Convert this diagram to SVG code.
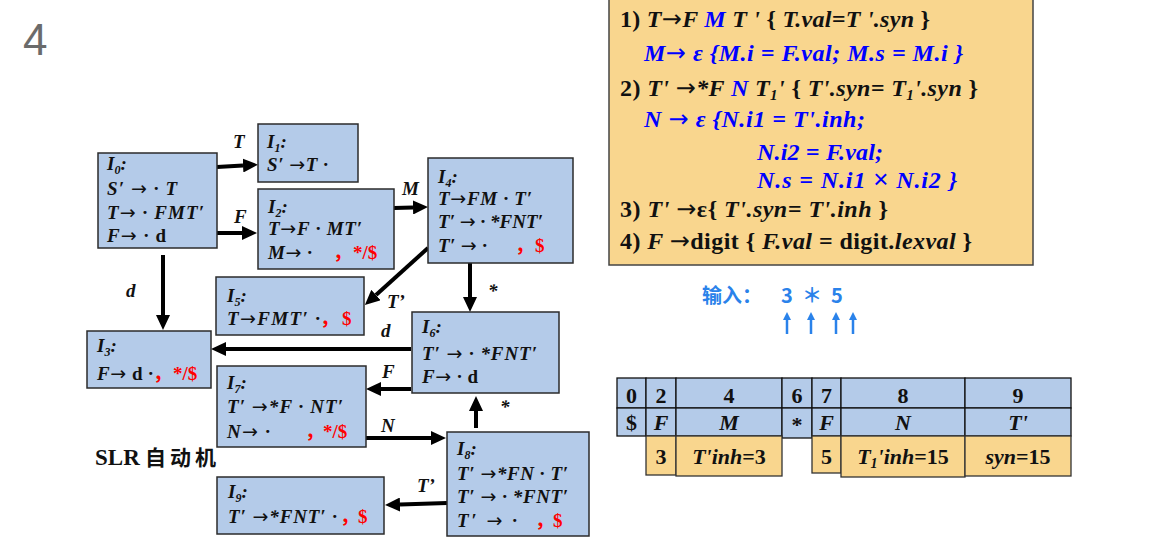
<svg xmlns="http://www.w3.org/2000/svg" width="1156" height="546" viewBox="0 0 1156 546">
<style>
.box{fill:#b4cbe9;stroke:#2b2b2b;stroke-width:1.5}
.bt{font-family:"Liberation Serif","Noto Sans CJK SC",serif;font-weight:bold;font-style:italic;font-size:19px;fill:#111}
.up{font-style:normal}
.ar{font-family:"DejaVu Sans",sans-serif;font-style:normal;font-weight:normal}
.sub{font-size:12px}
.red{fill:#ff0000;font-style:normal}
.cj{font-family:"Noto Sans CJK SC",sans-serif}
.edge{stroke:#000;stroke-width:4;fill:none}
.el{font-family:"Liberation Serif",serif;font-weight:bold;font-style:italic;font-size:19px;fill:#111}
.rt{font-family:"Liberation Serif","Noto Sans CJK SC",serif;font-weight:bold;font-size:24px;fill:#111}
.it{font-style:italic}
.bl{fill:#0000ff}
.tc{fill:#b4cbe9;stroke:#111;stroke-width:1.3}
.oc{fill:#f9d68e;stroke:#333;stroke-width:1.3}
.tt{font-family:"Liberation Serif",serif;font-weight:bold;font-size:22px;fill:#111;text-anchor:middle}
.inp{font-family:"Noto Sans CJK SC",sans-serif;font-size:20px;font-weight:bold;fill:#2a82ea}
.ua{stroke:#2a82ea;stroke-width:2.5}
</style>
<defs>
<marker id="ah" markerUnits="userSpaceOnUse" markerWidth="16" markerHeight="14" refX="0" refY="7" orient="auto">
<path d="M0,0 L15,7 L0,14 z" fill="#000"/>
</marker>
<marker id="ub" markerUnits="userSpaceOnUse" markerWidth="10" markerHeight="10" refX="0" refY="4" orient="auto">
<path d="M0,0 L8,4 L0,8 z" fill="#2a82ea"/>
</marker>
</defs>
<rect width="1156" height="546" fill="#fff"/>
<text x="23" y="55" font-family="Liberation Sans,sans-serif" font-size="44" fill="#6b6b6b">4</text>

<g id="connectors">
<line class="edge" x1="217" y1="167" x2="243" y2="165.5" marker-end="url(#ah)"/>
<line class="edge" x1="217" y1="233" x2="242" y2="233" marker-end="url(#ah)"/>
<line class="edge" x1="394" y1="208" x2="413" y2="207.5" marker-end="url(#ah)"/>
<line class="edge" x1="428" y1="248" x2="376" y2="295" marker-end="url(#ah)"/>
<line class="edge" x1="470" y1="263" x2="470" y2="297" marker-end="url(#ah)"/>
<line class="edge" x1="163" y1="255" x2="163" y2="315" marker-end="url(#ah)"/>
<line class="edge" x1="411" y1="349" x2="226" y2="349" marker-end="url(#ah)"/>
<line class="edge" x1="411" y1="389" x2="381" y2="389" marker-end="url(#ah)"/>
<line class="edge" x1="359" y1="438" x2="431" y2="438" marker-end="url(#ah)"/>
<line class="edge" x1="476" y1="428" x2="476" y2="411" marker-end="url(#ah)"/>
<line class="edge" x1="447" y1="503" x2="400" y2="504.5" marker-end="url(#ah)"/>
<text class="el" x="233" y="148">T</text>
<text class="el" x="234" y="223">F</text>
<text class="el" x="402" y="195">M</text>
<text class="el" x="387" y="308">T’</text>
<text class="el up" x="488" y="297" font-size="16">*</text>
<text class="el up" x="126" y="297">d</text>
<text class="el up" x="381" y="337">d</text>
<text class="el" x="382" y="378">F</text>
<text class="el" x="381" y="432">N</text>
<text class="el up" x="500" y="413" font-size="16">*</text>
<text class="el" x="417" y="492">T’</text>
</g>

<g id="I0">
<rect class="box" x="98" y="153" width="119" height="95"/>
<text class="bt" x="107" y="170">I<tspan class="sub" dy="4">0</tspan><tspan dy="-4">:</tspan></text>
<text class="bt" x="107" y="195" textLength="70">S′ <tspan class="ar">→</tspan> · T</text>
<text class="bt" x="107" y="219" textLength="97">T<tspan class="ar">→</tspan> · FMT′</text>
<text class="bt" x="107" y="242" textLength="59">F<tspan class="ar">→</tspan> · <tspan class="up">d</tspan></text>
</g>
<g id="I1">
<rect class="box" x="258" y="124" width="100" height="58"/>
<text class="bt" x="267" y="148">I<tspan class="sub" dy="4">1</tspan><tspan dy="-4">:</tspan></text>
<text class="bt" x="267" y="171" textLength="61">S′ <tspan class="ar">→</tspan>T ·</text>
</g>
<g id="I2">
<rect class="box" x="258" y="189" width="136" height="80"/>
<text class="bt" x="268" y="213">I<tspan class="sub" dy="4">2</tspan><tspan dy="-4">:</tspan></text>
<text class="bt" x="268" y="235" textLength="94">T<tspan class="ar">→</tspan>F · MT′</text>
<text class="bt" x="268" y="259" textLength="44">M<tspan class="ar">→</tspan> ·</text>
<text class="bt red cj" x="333" y="259">，</text>
<text class="bt red" x="353" y="259">*/$</text>
</g>
<g id="I4">
<rect class="box" x="428" y="158" width="145" height="105"/>
<text class="bt" x="438" y="183">I<tspan class="sub" dy="4">4</tspan><tspan dy="-4">:</tspan></text>
<text class="bt" x="438" y="205" textLength="94">T<tspan class="ar">→</tspan>FM · T′</text>
<text class="bt" x="438" y="228" textLength="105">T′ <tspan class="ar">→</tspan> · *FNT′</text>
<text class="bt" x="438" y="252" textLength="49">T′ <tspan class="ar">→</tspan> ·</text>
<text class="bt red cj" x="515" y="252">，</text>
<text class="bt red" x="535" y="252">$</text>
</g>
<g id="I5">
<rect class="box" x="216" y="277" width="148" height="58"/>
<text class="bt" x="227" y="302">I<tspan class="sub" dy="4">5</tspan><tspan dy="-4">:</tspan></text>
<text class="bt" x="227" y="325" textLength="93">T<tspan class="ar">→</tspan>FMT′ ·</text>
<text class="bt red cj" x="320" y="325">，</text>
<text class="bt red" x="342" y="325">$</text>
</g>
<g id="I3">
<rect class="box" x="87" y="331" width="124" height="57"/>
<text class="bt" x="97" y="352">I<tspan class="sub" dy="4">3</tspan><tspan dy="-4">:</tspan></text>
<text class="bt" x="97" y="380" textLength="56">F<tspan class="ar">→</tspan> <tspan class="up">d</tspan> ·</text>
<text class="bt red cj" x="153" y="380">，</text>
<text class="bt red" x="173" y="380">*/$</text>
</g>
<g id="I6">
<rect class="box" x="412" y="312" width="147" height="81"/>
<text class="bt" x="422" y="333">I<tspan class="sub" dy="4">6</tspan><tspan dy="-4">:</tspan></text>
<text class="bt" x="422" y="360" textLength="115">T′ <tspan class="ar">→</tspan> · *FNT′</text>
<text class="bt" x="422" y="383" textLength="56">F<tspan class="ar">→</tspan> · <tspan class="up">d</tspan></text>
</g>
<g id="I7">
<rect class="box" x="217" y="366" width="149" height="81"/>
<text class="bt" x="227" y="389">I<tspan class="sub" dy="4">7</tspan><tspan dy="-4">:</tspan></text>
<text class="bt" x="227" y="413" textLength="116">T′ <tspan class="ar">→</tspan>*F · NT′</text>
<text class="bt" x="227" y="438" textLength="43">N<tspan class="ar">→</tspan> ·</text>
<text class="bt red cj" x="305" y="438">，</text>
<text class="bt red" x="323" y="438">*/$</text>
</g>
<g id="I8">
<rect class="box" x="447" y="432" width="142" height="104"/>
<text class="bt" x="457" y="455">I<tspan class="sub" dy="4">8</tspan><tspan dy="-4">:</tspan></text>
<text class="bt" x="457" y="480" textLength="111">T′ <tspan class="ar">→</tspan>*FN · T′</text>
<text class="bt" x="457" y="503" textLength="111">T′ <tspan class="ar">→</tspan> · *FNT′</text>
<text class="bt" x="457" y="527" textLength="60">T′ <tspan class="ar">→</tspan> ·</text>
<text class="bt red cj" x="535" y="527">，</text>
<text class="bt red" x="553" y="527">$</text>
</g>
<g id="I9">
<rect class="box" x="217" y="477" width="167" height="57"/>
<text class="bt" x="228" y="498">I<tspan class="sub" dy="4">9</tspan><tspan dy="-4">:</tspan></text>
<text class="bt" x="228" y="523" textLength="109">T′ <tspan class="ar">→</tspan>*FNT′ ·</text>
<text class="bt red cj" x="340" y="523">，</text>
<text class="bt red" x="358" y="523">$</text>
</g>

<text x="95" y="465" font-family="Liberation Serif,Noto Sans CJK SC,serif" font-weight="bold" font-size="23" fill="#111">SLR<tspan x="145" font-family="Noto Sans CJK SC,sans-serif" font-size="21" letter-spacing="4">自动机</tspan></text>

<g id="rules">
<rect x="609" y="-2" width="424" height="267" fill="#f9d68e" stroke="#444" stroke-width="1.5"/>
<text class="rt" x="620" y="27" textLength="310">1) <tspan class="it">T<tspan class="ar">→</tspan>F </tspan><tspan class="it bl">M</tspan><tspan class="it"> T ' </tspan>{ <tspan class="it">T.val=T '.syn</tspan> }</text>
<text class="rt it bl" x="644" y="61" textLength="319">M<tspan class="ar">→</tspan> ε {M.i = F.val; M.s = M.i }</text>
<text class="rt" x="620" y="96" textLength="358">2) <tspan class="it">T' <tspan class="ar">→</tspan>*F </tspan><tspan class="it bl">N</tspan><tspan class="it"> T<tspan font-size="15" dy="4">1</tspan><tspan dy="-4">' </tspan></tspan>{ <tspan class="it">T'.syn= T<tspan font-size="15" dy="4">1</tspan><tspan dy="-4">'.syn</tspan></tspan> }</text>
<text class="rt it bl" x="644" y="127" textLength="221">N <tspan class="ar">→</tspan> ε {N.i1 = T'.inh;</text>
<text class="rt it bl" x="757" y="160" textLength="126">N.i2 = F.val;</text>
<text class="rt it bl" x="757" y="188" textLength="200">N.s = N.i1 <tspan font-family="Liberation Sans,sans-serif" font-weight="normal" font-style="normal" font-size="26">×</tspan> N.i2 }</text>
<text class="rt" x="620" y="217" textLength="268">3) <tspan class="it">T' </tspan><tspan class="ar">→</tspan>ε{ <tspan class="it">T'.syn= T'.inh</tspan> }</text>
<text class="rt" x="620" y="249" textLength="352">4) <tspan class="it">F </tspan><tspan class="ar">→</tspan>digit { <tspan class="it">F.val</tspan> = digit.<tspan class="it">lexval</tspan> }</text>
</g>

<g id="input">
<text class="inp" x="702" y="303">输入：</text>
<text class="inp" x="787" y="303" text-anchor="middle">3</text>
<text class="inp" x="812" y="303" text-anchor="middle">＊</text>
<text class="inp" x="837" y="303" text-anchor="middle">5</text>
<line class="ua" x1="787" y1="334" x2="787" y2="320" marker-end="url(#ub)"/>
<line class="ua" x1="811" y1="334" x2="811" y2="320" marker-end="url(#ub)"/>
<line class="ua" x1="836" y1="334" x2="836" y2="320" marker-end="url(#ub)"/>
<line class="ua" x1="853" y1="334" x2="853" y2="320" marker-end="url(#ub)"/>
</g>

<g id="stack">
<rect class="tc" x="617" y="378" width="29" height="30"/>
<rect class="tc" x="646" y="378" width="30" height="30"/>
<rect class="tc" x="676" y="378" width="106" height="30"/>
<rect class="tc" x="782" y="378" width="30" height="30"/>
<rect class="tc" x="812" y="378" width="29" height="30"/>
<rect class="tc" x="841" y="378" width="124" height="30"/>
<rect class="tc" x="965" y="378" width="106" height="30"/>
<rect class="tc" x="617" y="408" width="29" height="28"/>
<rect class="tc" x="646" y="408" width="30" height="28"/>
<rect class="tc" x="676" y="408" width="106" height="28"/>
<rect class="tc" x="782" y="408" width="30" height="30"/>
<rect class="tc" x="812" y="408" width="29" height="28"/>
<rect class="tc" x="841" y="408" width="124" height="28"/>
<rect class="tc" x="965" y="408" width="106" height="28"/>
<rect class="oc" x="646" y="436" width="30" height="39"/>
<rect class="oc" x="676" y="436" width="106" height="40"/>
<rect class="oc" x="812" y="436" width="29" height="37"/>
<rect class="oc" x="841" y="436" width="124" height="41"/>
<rect class="oc" x="965" y="436" width="106" height="40"/>
<text class="tt" x="631.5" y="403">0</text>
<text class="tt" x="661" y="403">2</text>
<text class="tt" x="729" y="403">4</text>
<text class="tt" x="797" y="403">6</text>
<text class="tt" x="826.5" y="403">7</text>
<text class="tt" x="903" y="403">8</text>
<text class="tt" x="1018" y="403">9</text>
<text class="tt" x="631.5" y="430">$</text>
<text class="tt it" x="661" y="430">F</text>
<text class="tt it" x="729" y="430">M</text>
<text class="tt" x="797" y="432">*</text>
<text class="tt it" x="826.5" y="430">F</text>
<text class="tt it" x="903" y="430">N</text>
<text class="tt it" x="1018" y="430">T'</text>
<text class="tt" x="661" y="464">3</text>
<text class="tt" x="729" y="464"><tspan class="it">T'inh</tspan>=3</text>
<text class="tt" x="826.5" y="464">5</text>
<text class="tt" x="903" y="464"><tspan class="it">T<tspan font-size="14" dy="4">1</tspan><tspan dy="-4">'inh</tspan></tspan>=15</text>
<text class="tt" x="1018" y="464"><tspan class="it">syn</tspan>=15</text>
</g>
</svg>
